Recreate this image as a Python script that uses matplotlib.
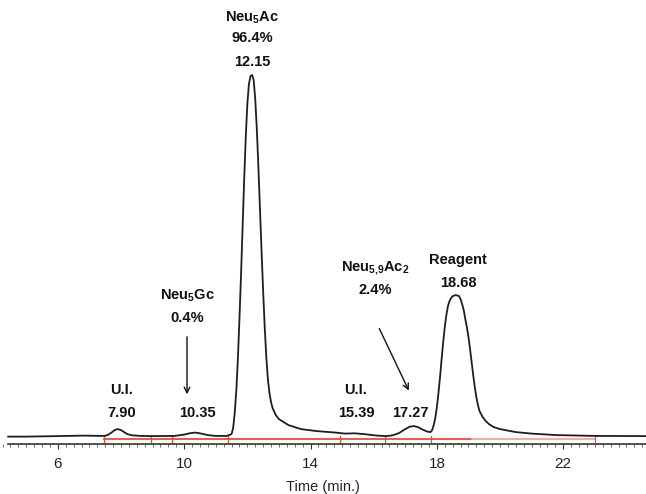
import matplotlib
matplotlib.use('Agg')
import matplotlib.pyplot as plt
from matplotlib.ticker import FixedLocator, MultipleLocator

plt.rcParams['font.family'] = 'Liberation Sans'
plt.rcParams['mathtext.fontset'] = 'custom'
plt.rcParams['mathtext.rm'] = 'Liberation Sans'
plt.rcParams['mathtext.bf'] = 'Liberation Sans:bold'

# chromatogram trace (time in min, detector response)
time = [4.43, 5.0, 6.0, 6.8, 7.4, 7.5, 7.6, 7.7, 7.8, 7.9, 8.0, 8.1, 8.2, 8.35,
        8.6, 9.0, 9.7, 10.0, 10.2, 10.35, 10.5, 10.75, 11.0, 11.35,
        11.5, 11.55, 11.6, 11.65, 11.7, 11.75, 11.8, 11.85, 11.9, 11.95, 12.0,
        12.05, 12.1, 12.15, 12.2, 12.25, 12.3, 12.35, 12.4, 12.45, 12.5, 12.55,
        12.6, 12.65, 12.7, 12.75, 12.8, 12.9, 13.0, 13.3, 13.7,
        14.2, 14.8, 15.1, 15.39, 15.7, 16.1, 16.4, 16.6, 16.8, 17.0, 17.15, 17.27,
        17.4, 17.55, 17.7, 17.8, 17.85, 17.9, 17.95, 18.0, 18.05, 18.1, 18.15,
        18.2, 18.25, 18.3, 18.35, 18.4, 18.45, 18.5, 18.6, 18.7, 18.75, 18.8,
        18.85, 18.9, 18.95, 19.0, 19.05, 19.1, 19.15, 19.2, 19.25, 19.3, 19.35,
        19.45, 19.55, 19.65, 19.8, 20.0, 20.5, 21.0, 21.8, 23.0, 24.62]
signal = [0.5, 0.5, 1.0, 1.5, 1.2, 1.3, 2.5, 4.5, 7.0, 8.0, 7.0, 5.0, 3.0, 1.8,
          1.2, 1.0, 1.2, 2.5, 4.0, 4.5, 3.8, 2.0, 1.2, 1.2,
          3.0, 9.0, 24.0, 46.0, 78.0, 118.0, 162.0, 210.0, 258.0, 300.0, 333.0,
          353.0, 361.0, 362.0, 357.0, 338.0, 308.0, 270.0, 228.0, 186.0, 146.0, 110.0,
          80.0, 58.0, 44.0, 35.0, 29.0, 22.0, 18.0, 12.0, 8.0,
          6.0, 4.5, 3.5, 3.8, 3.0, 1.5, 1.0, 1.8, 4.0, 8.0, 10.5, 11.0,
          10.0, 7.5, 5.5, 5.0, 7.0, 12.0, 19.0, 30.0, 44.0, 60.0, 78.0,
          95.0, 110.0, 122.0, 131.0, 136.0, 139.0, 141.0, 142.0, 141.0, 138.0, 133.0,
          127.0, 118.0, 110.0, 100.0, 88.0, 75.0, 62.0, 50.0, 40.0, 32.0, 26.0,
          20.0, 16.0, 13.0, 10.0, 8.0, 5.0, 3.5, 2.0, 1.2, 1.0]

# integration baseline and peak delimiters
cut_times = [7.46, 8.95, 9.62, 11.39, 14.93, 16.36, 17.81, 23.0]
fade_start = 19.1

fig = plt.figure(figsize=(6.46, 4.94), dpi=100)
ax = fig.add_axes([0.0, 0.101, 1.0, 0.899])

ax.plot([cut_times[0], fade_start], [-2, -2], color='#ee4b35', lw=1.3, zorder=1)
ax.plot([fade_start, cut_times[-1]], [-2, -2], color='#f6a596', lw=1.3, zorder=1)
for c in cut_times:
    ax.plot([c, c], [-5, 1], color='#ee4b35', lw=0.9, zorder=1)

ax.plot(time, signal, color='#1e1e1e', lw=1.3, zorder=2, solid_joinstyle='round')

ax.set_xlim(4.17, 24.62)
ax.set_ylim(-7, 437)
for s in ['left', 'right', 'top']:
    ax.spines[s].set_visible(False)
ax.spines['bottom'].set_bounds(4.43, 24.62)
ax.spines['bottom'].set_color('#333333')
ax.spines['bottom'].set_linewidth(1.2)
ax.set_yticks([])
ax.xaxis.set_major_locator(FixedLocator([6, 10, 14, 18, 22]))
ax.xaxis.set_minor_locator(MultipleLocator(0.25))
ax.tick_params(axis='x', which='major', length=3.5, color='#333333', labelsize=11,
               labelcolor='#222222', pad=6)
ax.tick_params(axis='x', which='minor', length=2, color='#555555')
ax.set_xlabel('Time (min.)', fontsize=10.5, color='#222222', labelpad=6)

lab = dict(ha='center', va='center', fontsize=10.5, fontweight='bold', color='#111111')
ax.text(12.15, 419, r'$\mathbf{Neu_{5}Ac}$', **lab)
ax.text(12.15, 399, '96.4%', **lab)
ax.text(12.15, 375, '12.15', **lab)

ax.text(18.67, 177, 'Reagent', **lab)
ax.text(18.67, 154, '18.68', **lab)

ax.text(10.09, 141, r'$\mathbf{Neu_{5}Gc}$', **lab)
ax.text(10.09, 119, '0.4%', **lab)
ax.annotate('', xy=(10.09, 40), xytext=(10.09, 103),
            arrowprops=dict(arrowstyle='->', color='#111111', lw=1.0))
ax.text(10.41, 24, '10.35', **lab)

ax.text(8.03, 47, 'U.I.', **lab)
ax.text(8.03, 24, '7.90', **lab)

ax.text(15.44, 47, 'U.I.', **lab)
ax.text(15.44, 24, '15.39', **lab)

ax.text(16.05, 169, r'$\mathbf{Neu_{5{,}9}Ac_{2}}$', **lab)
ax.text(16.05, 147, '2.4%', **lab)
ax.annotate('', xy=(17.15, 44), xytext=(16.14, 111),
            arrowprops=dict(arrowstyle='->', color='#111111', lw=1.0))
ax.text(17.15, 24, '17.27', **lab)

fig.savefig('out.png', dpi=100)
